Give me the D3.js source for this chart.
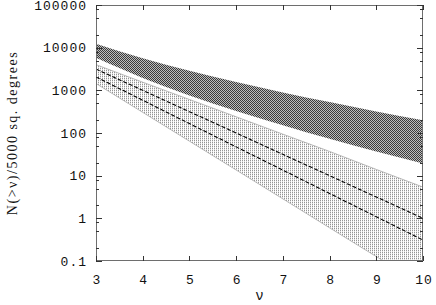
<!DOCTYPE html>
<html>
<head>
<meta charset="utf-8">
<script src="https://cdn.jsdelivr.net/npm/d3@7"></script>
<style>
  body { margin: 0; background: #fff; }
  text { font-family: "Liberation Mono", "DejaVu Sans Mono", monospace; fill: #111; }
</style>
</head>
<body>
<svg id="chart" width="436" height="305"></svg>
<script>
// values
const nu = [3, 4, 5, 6, 7, 8, 9, 10];
const darkTop = [12400, 5660, 2870, 1565, 895, 530, 321, 200];
const darkBottom = [5800, 1950, 760, 330, 152, 73, 37, 19.3];
const lightTop = [4000, 1550, 610, 240, 94, 37, 14, 5.4];
const lightBottom = [1445, 305, 64.3, 13.6, 2.86, 0.6, 0.127, 0.027];
const dashUpper = [3160, 1000, 316, 100, 31.6, 10, 3.16, 1];
const dashLower = [2060, 586, 166, 47.3, 13.5, 3.83, 1.09, 0.31];
const xTicks = [3, 4, 5, 6, 7, 8, 9, 10];
const yTicks = [0.1, 1, 10, 100, 1000, 10000, 100000];
const yTickLabels = ["0.1", "1", "10", "100", "1000", "10000", "100000"];

const W = 436, H = 305;
const margin = {top: 5, right: 13, bottom: 44, left: 96};
const svg = d3.select('#chart');

const x = d3.scaleLinear().domain([3, 10]).range([margin.left, W - margin.right]);
const y = d3.scaleLog().domain([0.1, 100000]).range([H - margin.bottom, margin.top]);

const defs = svg.append('defs');
defs.append('clipPath').attr('id', 'plot-clip')
    .append('rect')
    .attr('x', margin.left).attr('y', margin.top)
    .attr('width', W - margin.left - margin.right)
    .attr('height', H - margin.top - margin.bottom);

// dense dark hatch
const pDark = defs.append('pattern').attr('id', 'dark-hatch')
    .attr('patternUnits', 'userSpaceOnUse').attr('width', 2).attr('height', 2);
pDark.append('rect').attr('width', 2).attr('height', 2).attr('fill', '#bdbdbd');
pDark.append('rect').attr('x', 0).attr('y', 0).attr('width', 1).attr('height', 1).attr('fill', '#3a3a3a');
pDark.append('rect').attr('x', 1).attr('y', 1).attr('width', 1).attr('height', 1).attr('fill', '#3a3a3a');

// light dotted grid
const pLight = defs.append('pattern').attr('id', 'light-dots')
    .attr('patternUnits', 'userSpaceOnUse').attr('width', 2).attr('height', 2);
pLight.append('rect').attr('width', 2).attr('height', 2).attr('fill', '#fff');
pLight.append('rect').attr('x', 0).attr('y', 0).attr('width', 1).attr('height', 1).attr('fill', '#959595');
pLight.append('rect').attr('x', 0).attr('y', 1).attr('width', 1).attr('height', 1).attr('fill', '#dedede');

function bandData(top, bottom) {
    return nu.map((v, i) => ({nu: v, top: top[i], bottom: bottom[i]}));
}

const area = d3.area()
    .x(d => x(d.nu))
    .y0(d => y(d.bottom))
    .y1(d => y(d.top))
    .curve(d3.curveMonotoneX);

const edge = d3.line()
    .x(d => x(d.nu))
    .y(d => y(d.v))
    .curve(d3.curveMonotoneX);

const plot = svg.append('g').attr('clip-path', 'url(#plot-clip)');

// light band (lower)
const light = bandData(lightTop, lightBottom);
plot.append('path').attr('d', area(light)).attr('fill', 'url(#light-dots)');
[lightTop, lightBottom].forEach(arr => {
    plot.append('path')
        .attr('d', edge(nu.map((v, i) => ({nu: v, v: arr[i]}))))
        .attr('fill', 'none').attr('stroke', '#a8a8a8').attr('stroke-width', 0.8);
});

// dark band (upper)
const dark = bandData(darkTop, darkBottom);
plot.append('path').attr('d', area(dark)).attr('fill', 'url(#dark-hatch)');

// dashed lines
[dashUpper, dashLower].forEach(arr => {
    plot.append('path')
        .attr('d', edge(nu.map((v, i) => ({nu: v, v: arr[i]}))))
        .attr('fill', 'none').attr('stroke', '#000').attr('stroke-width', 1.1)
        .attr('stroke-dasharray', '4,2');
});

// frame
const frame = svg.append('g').attr('stroke', '#6e6e6e').attr('stroke-width', 1).attr('fill', 'none');
frame.append('rect')
    .attr('x', margin.left + 0.5).attr('y', margin.top + 0.5)
    .attr('width', W - margin.left - margin.right - 1)
    .attr('height', H - margin.top - margin.bottom - 1);

// ticks, pointing inward on all four sides
const minorTicks = [];
for (let e = -1; e < 5; e++) {
    [2, 5, 8].forEach(m => minorTicks.push(m * Math.pow(10, e)));
}
const tickG = svg.append('g').attr('stroke', '#333').attr('stroke-width', 1);
const x0 = margin.left, x1 = W - margin.right, y0 = H - margin.bottom, y1 = margin.top;

xTicks.forEach(t => {
    const px = Math.round(x(t)) + 0.5;
    tickG.append('line').attr('x1', px).attr('x2', px).attr('y1', y0).attr('y2', y0 - 5);
    tickG.append('line').attr('x1', px).attr('x2', px).attr('y1', y1).attr('y2', y1 + 5);
});
yTicks.forEach(t => {
    const py = Math.round(y(t)) + 0.5;
    tickG.append('line').attr('x1', x0).attr('x2', x0 + 6).attr('y1', py).attr('y2', py);
    tickG.append('line').attr('x1', x1).attr('x2', x1 - 6).attr('y1', py).attr('y2', py);
});
minorTicks.forEach(t => {
    const py = Math.round(y(t)) + 0.5;
    tickG.append('line').attr('x1', x0).attr('x2', x0 + 3).attr('y1', py).attr('y2', py);
    tickG.append('line').attr('x1', x1).attr('x2', x1 - 3).attr('y1', py).attr('y2', py);
});

// tick labels
const labelG = svg.append('g').style('font-size', '13px').style('letter-spacing', '1px');
yTicks.forEach((t, i) => {
    labelG.append('text')
        .attr('x', 87).attr('y', y(t))
        .attr('dy', '0.35em')
        .attr('text-anchor', 'end')
        .text(yTickLabels[i]);
});
xTicks.forEach(t => {
    labelG.append('text')
        .attr('x', x(t) + 1).attr('y', 284)
        .attr('text-anchor', 'middle')
        .text(t);
});

// axis titles
svg.append('text')
    .attr('x', (x0 + x1) / 2).attr('y', 300)
    .attr('text-anchor', 'middle')
    .style('font-size', '14px')
    .text('ν');

svg.append('text')
    .attr('transform', 'translate(17,133) rotate(-90)')
    .attr('text-anchor', 'middle')
    .style('font-family', '"Liberation Serif", "DejaVu Serif", serif')
    .style('font-size', '14px')
    .style('letter-spacing', '1.5px')
    .text('N(>ν)/5000 sq. degrees');
</script>
</body>
</html>
